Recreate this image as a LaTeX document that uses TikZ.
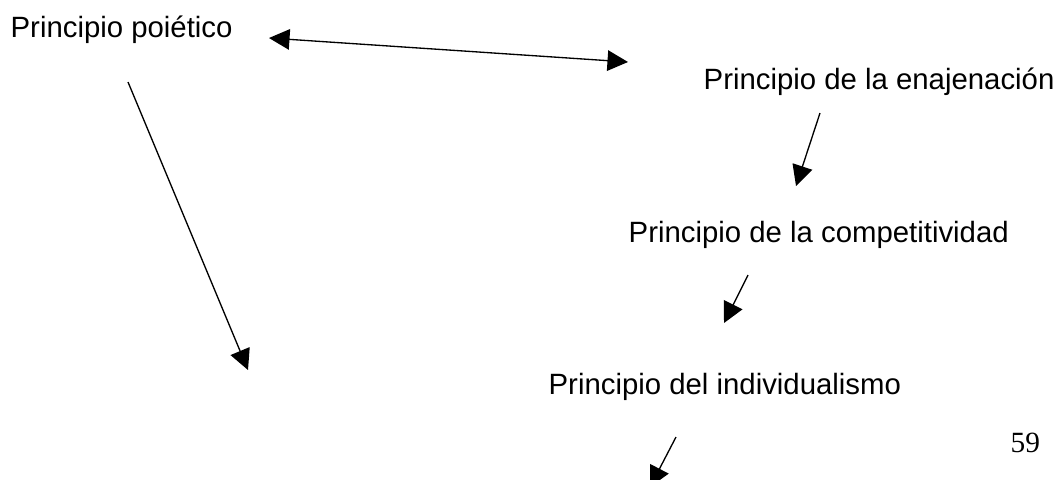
\documentclass[tikz,border=0pt]{standalone}
\usepackage{fontspec}
\setmainfont{Liberation Sans}
\newfontfamily\pagefont{Liberation Serif}
\usetikzlibrary{arrows.meta}

\begin{document}
\begin{tikzpicture}[->,
            x = 0.414pt, y = -0.414pt,
            >={Triangle[length=8.5pt,width=8.5pt]},
            line width = 0.55pt,
            txt/.style = {anchor=base west,inner sep=0pt,font=\fontsize{12.15}{14}\selectfont},
            num/.style = {anchor=base west,inner sep=0pt,font=\fontsize{12.15}{14}\selectfont\pagefont}]
            \useasboundingbox (0,0) rectangle (1056,479);
            \node[txt](poi) at (10,37) {Principio poiético};
            \node[txt](enaj) at (703,89) {Principio de la enajenación};
            \node[txt](comp) at (628,242) {Principio de la competitividad};
            \node[txt](indiv) at (548,394) {Principio del individualismo};
            \node[num](page) at (1010,452) {59};
            \coordinate (l1) at (269,38);
            \coordinate (r1) at (628,62);
            \coordinate (p1) at (128,82);
            \coordinate (p2) at (248,370);
            \coordinate (e1) at (820,113);
            \coordinate (e2) at (796,186);
            \coordinate (c1) at (748,275);
            \coordinate (c2) at (724,323);
            \coordinate (i1) at (676,437);
            \coordinate (i2) at (650,487);
            \path[]
                (l1) edge[<->] (r1)
                (p1) edge (p2)
                (e1) edge (e2)
                (c1) edge (c2)
                (i1) edge (i2);
        \end{tikzpicture}
\end{document}
